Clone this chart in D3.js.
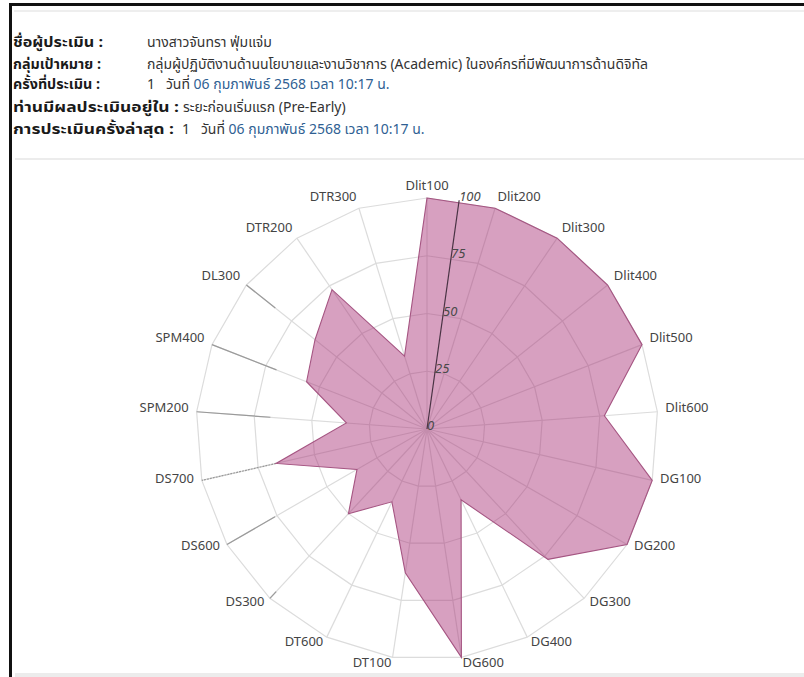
<!DOCTYPE html>
<html>
<head>
<meta charset="utf-8">
<script src="https://cdn.jsdelivr.net/npm/d3@7"></script>
<style>
  html, body { margin: 0; padding: 0; background: #fff; }
  svg { display: block; }
  .th { font-family: "Noto Sans Thai", "Sarabun", "Tahoma", "Noto Sans", sans-serif; }
</style>
</head>
<body>
<svg id="chart" width="804" height="677"></svg>
<script>
// header rows
var headLabels = ['ชื่อผู้ประเมิน :', 'กลุ่มเป้าหมาย :', 'ครั้งที่ประเมิน :', 'ท่านมีผลประเมินอยู่ใน :', 'การประเมินครั้งล่าสุด :'];
var headValues = ['นางสาวจันทรา ฟุ่มแจ่ม',
  'กลุ่มผู้ปฏิบัติงานด้านนโยบายและงานวิชาการ (Academic) ในองค์กรที่มีพัฒนาการด้านดิจิทัล',
  '1   วันที่ ', 'ระยะก่อนเริ่มแรก (Pre-Early)', '1   วันที่ '];
var headDates = ['', '', '06 กุมภาพันธ์ 2568 เวลา 10:17 น.', '', '06 กุมภาพันธ์ 2568 เวลา 10:17 น.'];

// radar data
var axes = ['Dlit100', 'Dlit200', 'Dlit300', 'Dlit400', 'Dlit500', 'Dlit600',
  'DG100', 'DG200', 'DG300', 'DG400', 'DG600', 'DT100', 'DT600',
  'DS300', 'DS600', 'DS700', 'SPM200', 'SPM400', 'DL300', 'DTR200', 'DTR300'];
var scores = [100, 100, 100, 100, 100, 77, 100, 100, 77, 34, 100, 63, 35, 50, 35, 67, 35, 56, 62, 73, 33];
var rTicks = [0, 25, 50, 75, 100];
// darker spoke segments seen on some axes (from this value out to 100)
var shadeAxes = ['DS300', 'DS600', 'DS700', 'SPM200', 'SPM400', 'DL300'];
var shadeFrom = [96, 76, 67, 68, 70, 84];

var svg = d3.select('#chart');

// page frame
svg.append('rect').attr('x', 9).attr('y', 3).attr('width', 795).attr('height', 3).attr('fill', '#111');
svg.append('rect').attr('x', 9).attr('y', 3).attr('width', 3).attr('height', 674).attr('fill', '#111');
svg.append('rect').attr('x', 14).attr('y', 10).attr('width', 790).attr('height', 2).attr('fill', '#eeeeee');
svg.append('rect').attr('x', 15).attr('y', 158).attr('width', 789).attr('height', 2).attr('fill', '#ececec');
svg.append('rect').attr('x', 15).attr('y', 673).attr('width', 789).attr('height', 4).attr('fill', '#ececec');

// header text
var rowY = [47, 69, 89, 112, 134];
var valX = [147, 147, 147, 183, 182];
var labelW = [90, 88, 87, 166, 161];
headLabels.forEach(function (t, i) {
  svg.append('text').attr('class', 'th')
    .attr('x', 13).attr('y', rowY[i])
    .attr('textLength', labelW[i]).attr('lengthAdjust', 'spacingAndGlyphs')
    .style('font-size', '14px').style('font-weight', 'bold').attr('fill', '#1a1a1a')
    .text(t);
  var tx = svg.append('text').attr('class', 'th')
    .attr('x', valX[i]).attr('y', rowY[i])
    .style('font-size', '14px').attr('fill', '#333')
    .attr('xml:space', 'preserve');
  tx.append('tspan').text(headValues[i]);
  if (headDates[i]) tx.append('tspan').attr('fill', '#2f5f93').text(headDates[i]);
});

// radar
var cx = 427, cy = 429, R = 231;
var ang = d3.scaleBand().domain(axes).range([0, 2 * Math.PI]).align(0).paddingInner(0).paddingOuter(0);
function angle(a) { return ang(a); }
var r = d3.scaleLinear().domain([0, 100]).range([0, R]);
function pt(a, v) {
  var t = angle(a);
  return [cx + r(v) * Math.sin(t), cy - r(v) * Math.cos(t)];
}

var g = svg.append('g');

// grid rings (polygon)
rTicks.slice(1).forEach(function (v) {
  g.append('path')
    .attr('d', d3.line()(axes.map(function (a) { return pt(a, v); })) + 'Z')
    .attr('fill', 'none').attr('stroke', '#dcdcdc').attr('stroke-width', 1.2);
});
// spokes
g.selectAll('.spoke').data(axes).enter().append('line')
  .attr('x1', cx).attr('y1', cy)
  .attr('x2', function (a) { return pt(a, 100)[0]; })
  .attr('y2', function (a) { return pt(a, 100)[1]; })
  .attr('stroke', '#dcdcdc').attr('stroke-width', 1.2);
// darker segments
g.selectAll('.shade').data(shadeAxes).enter().append('line')
  .attr('x1', function (a, i) { return pt(a, shadeFrom[i])[0]; })
  .attr('y1', function (a, i) { return pt(a, shadeFrom[i])[1]; })
  .attr('x2', function (a) { return pt(a, 100)[0]; })
  .attr('y2', function (a) { return pt(a, 100)[1]; })
  .attr('stroke', '#9a9a9a').attr('stroke-width', 1.2)
  .attr('stroke-dasharray', function (a) { return a == 'DS700' ? '2,1' : null; });

// data polygon
g.append('path')
  .attr('d', d3.line()(axes.map(function (a, i) { return pt(a, scores[i]); })) + 'Z')
  .attr('fill', 'rgba(168,48,118,0.46)')
  .attr('stroke', 'rgb(165,85,130)').attr('stroke-width', 1.1);

// radial axis
var rAng = 8 * Math.PI / 180;
g.append('line')
  .attr('x1', cx).attr('y1', cy)
  .attr('x2', cx + R * Math.sin(rAng)).attr('y2', cy - R * Math.cos(rAng))
  .attr('stroke', '#4a3344').attr('stroke-width', 1.2);
g.selectAll('.rtick').data(rTicks).enter().append('text')
  .attr('x', function (v) { return cx + r(v) * Math.sin(rAng); })
  .attr('y', function (v) { return cy - r(v) * Math.cos(rAng) + 1; })
  .style('font-family', '"Noto Sans", sans-serif').style('font-size', '13px')
  .style('font-style', 'italic').attr('fill', '#4a4a4a')
  .text(function (v) { return v; });

// category labels
g.selectAll('.alabel').data(axes).enter().append('text')
  .attr('x', function (a) { return pt(a, 100)[0] + 8 * Math.sin(angle(a)); })
  .attr('y', function (a) { return pt(a, 100)[1] + 1 - 9 * Math.cos(angle(a)); })
  .attr('text-anchor', function (a) {
    var s = Math.sin(angle(a));
    return s > 0.01 ? 'start' : (s < -0.01 ? 'end' : 'middle');
  })
  .style('font-family', '"Noto Sans", sans-serif').style('font-size', '13px')
  .attr('fill', '#444')
  .text(function (a) { return a; });
</script>
</body>
</html>
